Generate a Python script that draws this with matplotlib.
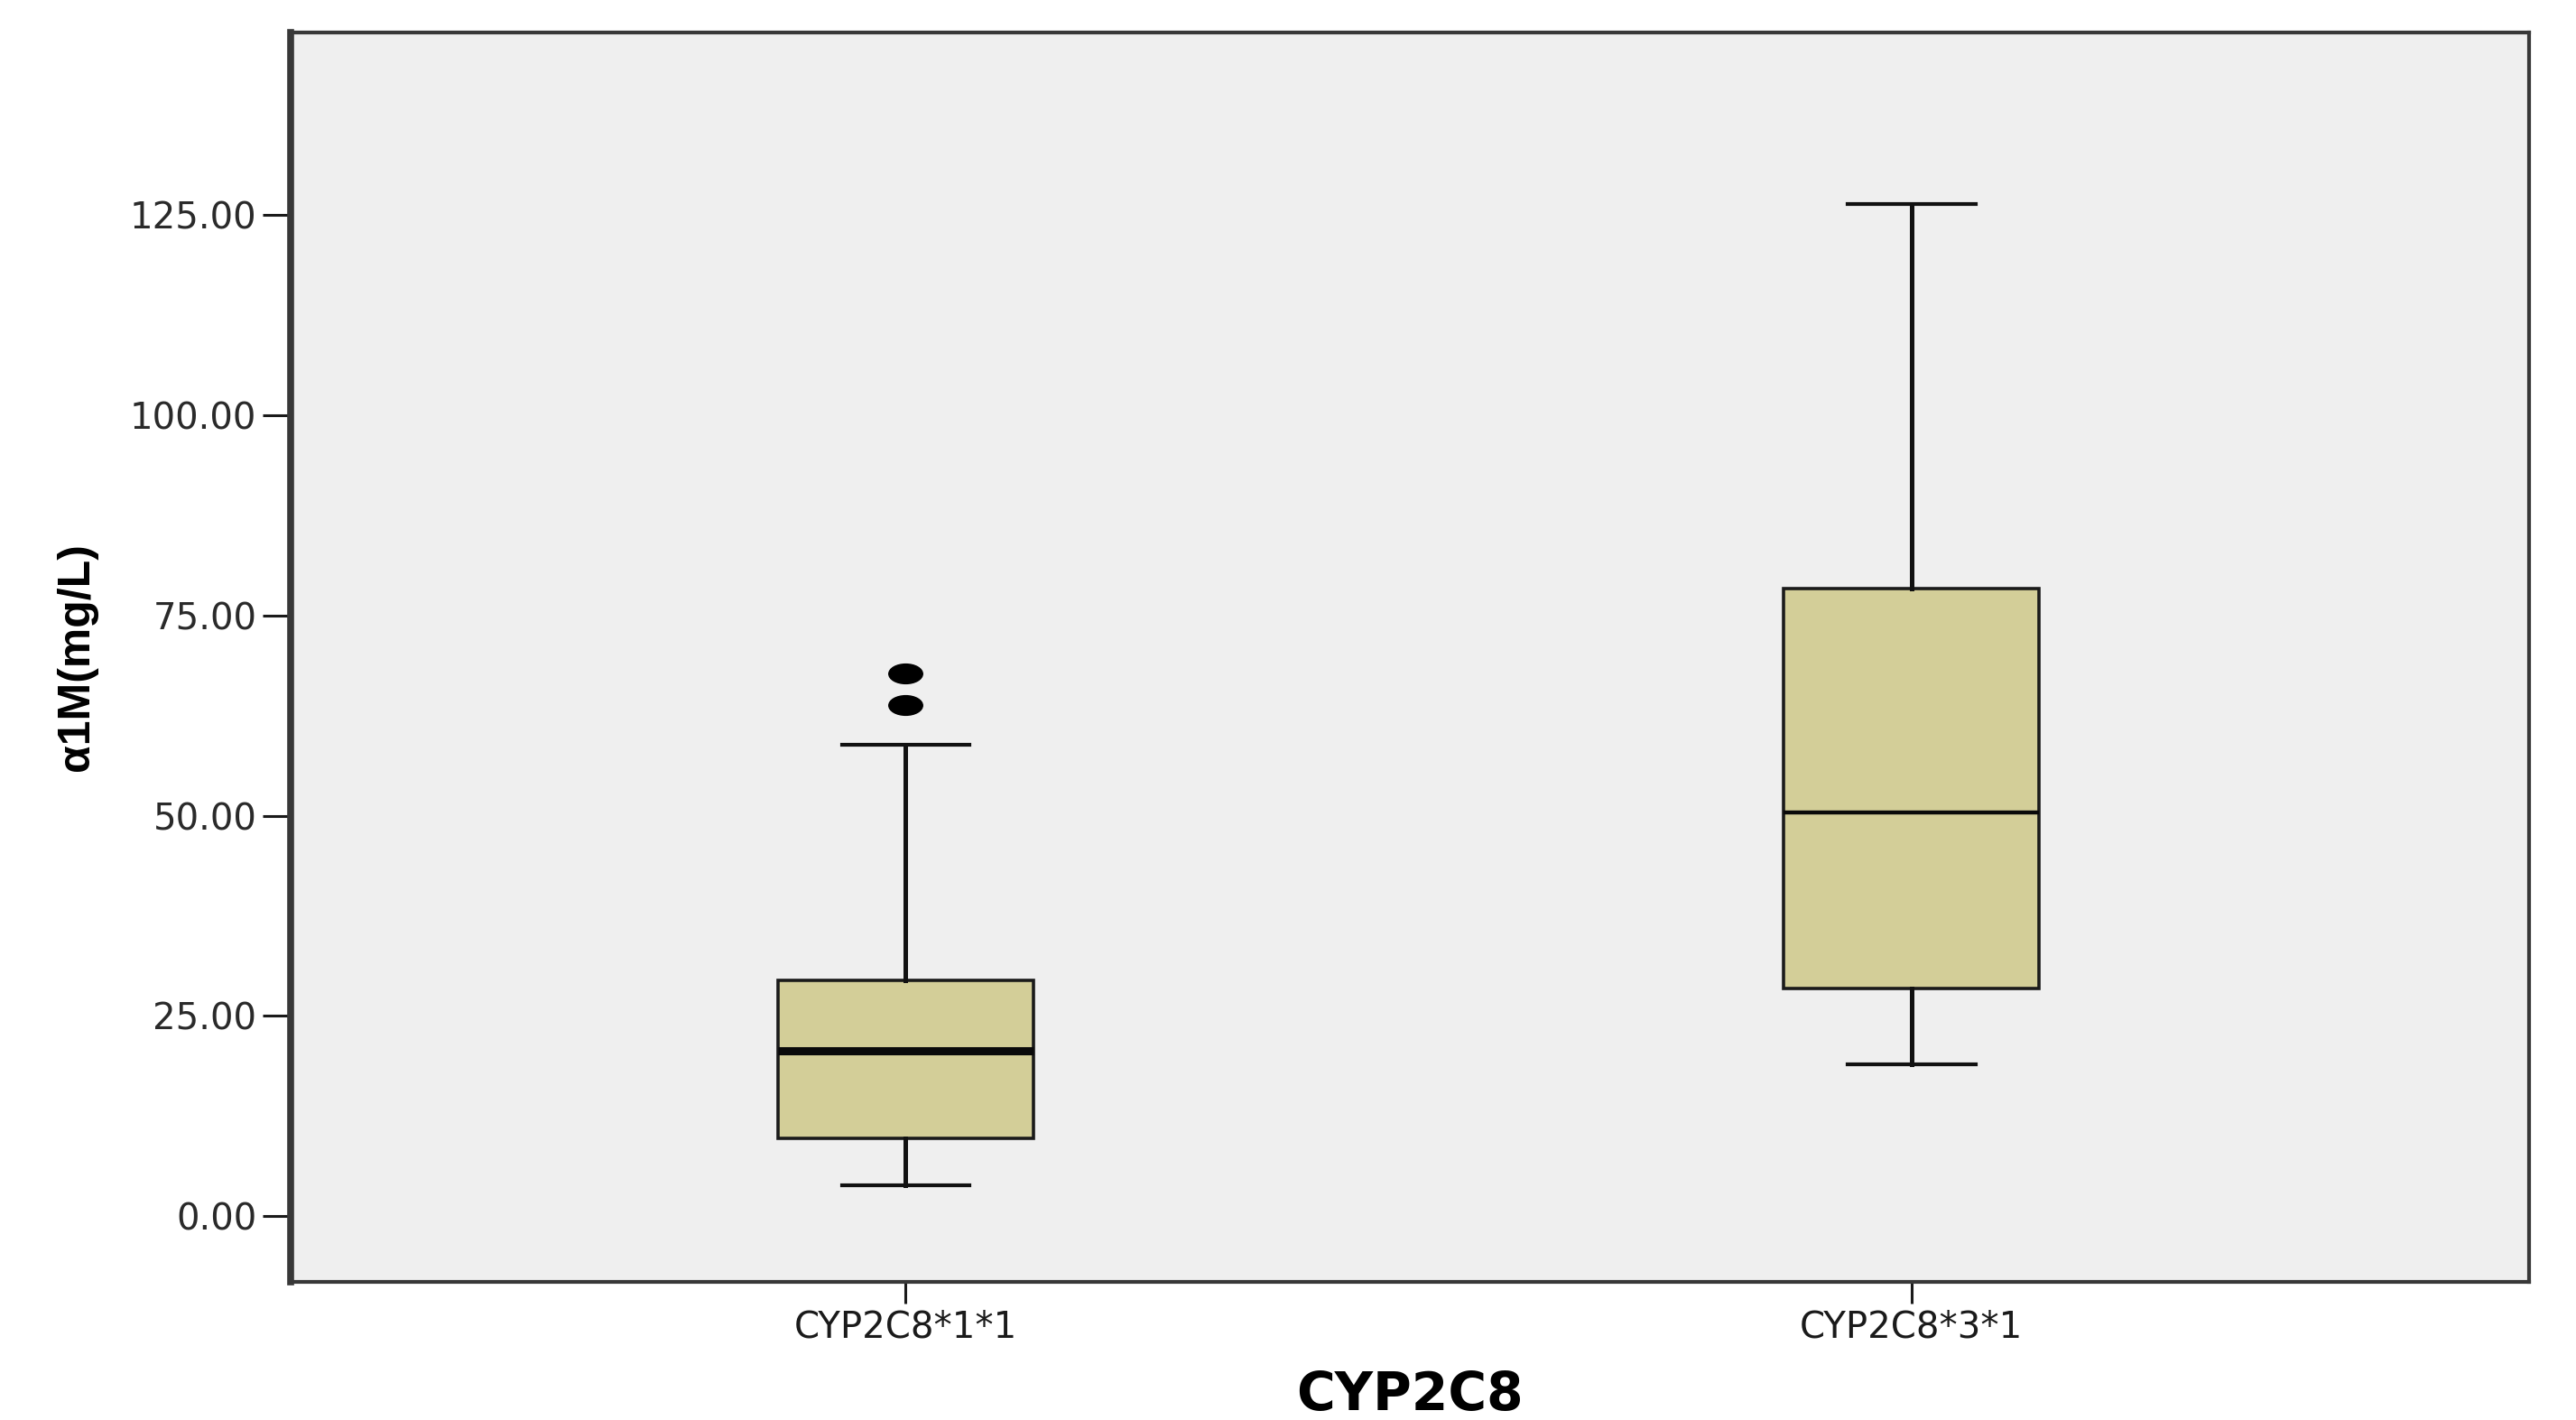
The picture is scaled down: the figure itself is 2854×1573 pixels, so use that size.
import matplotlib
matplotlib.use("Agg")
import matplotlib.pyplot as plt
from matplotlib.path import Path
from matplotlib.transforms import Affine2D

# Summary values for the two genotype groups
groups = ["CYP2C8*1*1", "CYP2C8*3*1"]
whisker_low = [3.8, 19.0]
q1 = [9.7, 28.4]
median = [20.7, 50.4]
q3 = [29.4, 78.4]
whisker_high = [58.9, 126.4]
outliers = [[63.8, 67.8], []]

y_ticks = [0, 25, 50, 75, 100, 125]

box_fill = "#D3CE98"
panel_bg = "#EFEFEF"
frame = "#383838"

stats = []
for i, name in enumerate(groups):
    stats.append({
        "label": name,
        "whislo": whisker_low[i],
        "q1": q1[i],
        "med": median[i],
        "q3": q3[i],
        "whishi": whisker_high[i],
        "fliers": outliers[i],
    })

# flattened ellipse for the outlier dots
dot = Path.unit_circle().transformed(Affine2D().scale(1.0, 0.58))

fig = plt.figure(figsize=(28.54, 15.73), dpi=100)
ax = fig.add_axes([0.1128, 0.0973, 0.8690, 0.8798])
ax.set_facecolor(panel_bg)

bp = ax.bxp(
    stats,
    positions=[1, 2],
    widths=0.254,
    capwidths=0.127,
    patch_artist=True,
    boxprops=dict(facecolor=box_fill, edgecolor="#1a1a1a", linewidth=2.6),
    whiskerprops=dict(color="#111111", linewidth=3.6),
    capprops=dict(color="#111111", linewidth=3.0),
    medianprops=dict(color="#0a0a0a", linewidth=3.2),
    flierprops=dict(marker=dot, markersize=27, markerfacecolor="black",
                    markeredgecolor="black"),
)
bp["medians"][0].set_linewidth(6.5)

ax.set_xlim(0.3885, 2.614)
ax.set_ylim(-8.2, 147.8)

ax.set_yticks(y_ticks)
ax.set_yticklabels([f"{v:.2f}" for v in y_ticks], family="DejaVu Sans",
                   fontsize=29, color="#2a2a2a")
ax.set_xticks([1, 2])
ax.set_xticklabels(groups, family="DejaVu Sans", fontsize=29, color="#1a1a1a")

ax.tick_params(axis="y", length=22, width=2.2, pad=5, color="#1a1a1a")
ax.tick_params(axis="x", length=17, width=2.2, pad=5, color="#1a1a1a")

for side in ["top", "right", "bottom"]:
    ax.spines[side].set_color(frame)
    ax.spines[side].set_linewidth(3.0)
ax.spines["left"].set_color(frame)
ax.spines["left"].set_linewidth(5.5)

ax.set_ylabel("α1M(mg/L)", family="Liberation Sans", fontweight="bold",
              fontsize=36, va="center")
ax.yaxis.set_label_coords(-0.0956, 0.5)
ax.set_xlabel("CYP2C8", family="DejaVu Sans", fontweight="bold",
              fontsize=42, va="center")
ax.xaxis.set_label_coords(0.5, -0.091)

fig.savefig("out.png", dpi=100, facecolor="white")
